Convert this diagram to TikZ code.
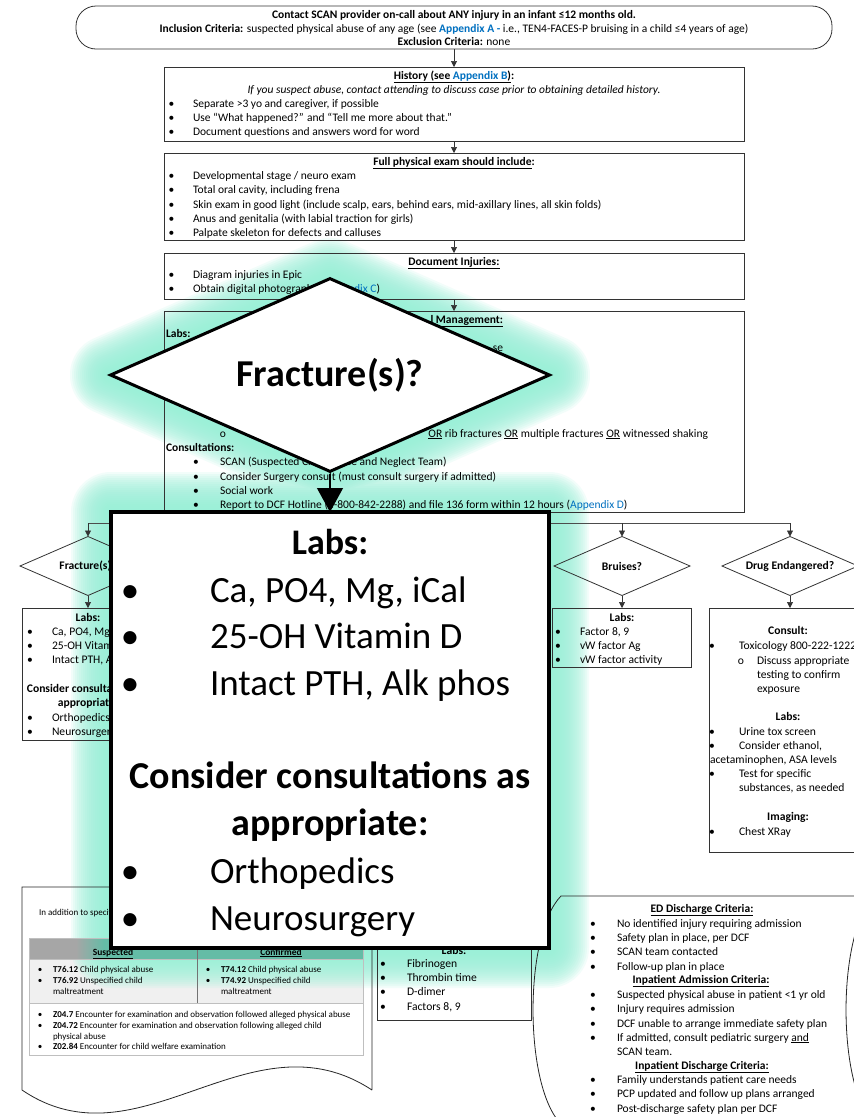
\documentclass[tikz,border=0pt]{standalone}
\usepackage{fontspec}
\setmainfont{Carlito}
\usetikzlibrary{arrows.meta,shapes.geometric}
\definecolor{link}{RGB}{0,112,192}
\definecolor{glowc}{RGB}{150,240,216}
\definecolor{hdrgrey}{RGB}{166,166,166}
\definecolor{hdrteal}{RGB}{100,188,166}
\definecolor{rowgrey}{RGB}{240,240,240}
\definecolor{rulegrey}{RGB}{191,191,191}
\newcommand\fs[1]{\fontsize{#1}{#1}\selectfont}
% bullet line: name, bullet x, text x, baseline y, text
\newcommand\bitem[5]{\node[tc] (#1b) at (#2,#4) {\textbullet}; \node[tx] (#1) at (#3,#4) {#5};}

\begin{document}
\begin{tikzpicture}[x=1pt,y=-1pt,
  tx/.style={inner sep=0pt,outer sep=0pt,anchor=base west},
  tc/.style={inner sep=0pt,outer sep=0pt,anchor=base},
  te/.style={inner sep=0pt,outer sep=0pt,anchor=base east},
  box/.style={draw=black!80,line width=0.8pt,inner sep=0pt,outer sep=0pt},
  dia/.style={draw=black!80,line width=0.8pt,diamond,aspect=2.3,inner sep=0pt,outer sep=0pt,
              minimum width=136,minimum height=59,font=\fs{11.6}\bfseries},
  arr/.style={draw=black!80,line width=0.7pt,-{Triangle[width=6pt,length=6pt]}},
  ln/.style={draw=black!70,line width=0.7pt},
  bigarr/.style={draw=black,line width=1.2pt,-{Triangle[width=26pt,length=24pt]}},
  bold/.style={font=\fs{#1}\bfseries},
]
\useasboundingbox (0,0) rectangle (854,1117);
\fill[white] (0,0) rectangle (854,1117);
\clip (0,0) rectangle (854,1117);

% table shading of the coding document (lies under the highlight)
\fill[rowgrey] (29,959) rectangle (363,1003);

% ---------------- soft highlight around the enlarged call-out ----------------
\fill[glowc] (110,375) -- (330,278) -- (550,375) -- (330,472) -- cycle;
\fill[glowc] (111,512) rectangle (549,948);
\foreach \w in {80,76,...,4} {
  \draw[glowc,line width=\w pt,line join=round,opacity=0.12]
    (110,375) -- (330,278) -- (550,375) -- (330,472) -- cycle
    (111,512) rectangle (549,948);
}
% header row of the coding table, tinted where the highlight reaches it
\fill[hdrgrey] (29,938) rectangle (76,959);
\shade[left color=hdrgrey,right color=hdrteal] (76,938) rectangle (104,959);
\fill[hdrteal] (104,938) rectangle (363,959);

% ---------------- main column boxes ----------------
\node[box,rounded corners=20pt,minimum width=756,minimum height=43,anchor=north] (top) at (454,6) {};
\node[box,minimum width=580,minimum height=74,anchor=north] (hist) at (454,67) {};
\node[box,minimum width=580,minimum height=87,anchor=north] (pe) at (454,153) {};
\node[box,minimum width=580,minimum height=46,anchor=north] (doc) at (454,253) {};
\node[box,minimum width=580,minimum height=201,anchor=north] (mgmt) at (454,311) {};

\draw[arr] (top.south) -- (hist.north);
\draw[arr] (hist.south) -- (pe.north);
\draw[arr] (pe.south) -- (doc.north);
\draw[arr] (doc.south) -- (mgmt.north);

\begin{scope}[every node/.append style={font=\fs{11.5}}]
\node[tc,bold=11.5] (t1) at (454,18.5) {Contact SCAN provider on-call about ANY injury in an infant ≤12 months old.};
\node[tc] (t2) at (454,32) {\textbf{Inclusion Criteria:} suspected physical abuse of any age (see \textcolor{link}{\textbf{Appendix A -}} i.e., TEN4-FACES-P bruising in a child ≤4 years of age)};
\node[tc] (t3) at (454,45) {\textbf{Exclusion Criteria:} none};

\node[tc,bold=11.5] (hT) at (454,79) {\underline{History (see \textcolor{link}{Appendix B})}:};
\node[tc,font=\fs{11.5}\itshape] (hI) at (454,93) {If you suspect abuse, contact attending to discuss case prior to obtaining detailed history.};
\bitem{h1}{171.5}{193}{107}{Separate >3 yo and caregiver, if possible}
\bitem{h2}{171.5}{193}{121}{Use “What happened?” and “Tell me more about that.”}
\bitem{h3}{171.5}{193}{135}{Document questions and answers word for word}

\node[tc,bold=11.5] (pT) at (454,165) {\underline{Full physical exam should include}:};
\bitem{p1}{171.5}{193}{179}{Developmental stage / neuro exam}
\bitem{p2}{171.5}{193}{193}{Total oral cavity, including frena}
\bitem{p3}{171.5}{193}{208}{Skin exam in good light (include scalp, ears, behind ears, mid-axillary lines, all skin folds)}
\bitem{p4}{171.5}{193}{222}{Anus and genitalia (with labial traction for girls)}
\bitem{p5}{171.5}{193}{236}{Palpate skeleton for defects and calluses}

\node[tc,bold=11.5] (dT) at (454,265) {\underline{Document Injuries:}};
\bitem{d1}{171.5}{193}{278.5}{Diagram injuries in Epic}
\bitem{d2}{171.5}{193}{292.5}{Obtain digital photographs (\textcolor{link}{Appendix C})}

\node[te,bold=11.5] (mT) at (503,323) {\underline{l Management:}};
\node[tx,bold=11.5] (mL) at (166,337) {Labs:};
\node[te] (mS) at (503,351) {se};
\node[tc] (mOb) at (223,437) {o};
\node[te] (mO) at (708,437) {\underline{OR} rib fractures \underline{OR} multiple fractures \underline{OR} witnessed shaking};
\node[tx,bold=11.5] (mC) at (166,451) {Consultations:};
\bitem{m1}{196}{220}{465}{SCAN (Suspected Child Abuse and Neglect Team)}
\bitem{m2}{196}{220}{480}{Consider Surgery consult (must consult surgery if admitted)}
\bitem{m3}{196}{220}{494}{Social work}
\bitem{m4}{196}{220}{508}{Report to DCF Hotline (1-800-842-2288) and file 136 form within 12 hours (\textcolor{link}{Appendix D})}
\end{scope}

% ---------------- branches ----------------
\coordinate (jM) at (454,523);
\coordinate (jL) at (88,523);
\coordinate (jB) at (622,523);
\coordinate (jD) at (790,523);
\draw[ln] (mgmt.south) -- (jM);
\draw[ln] (jL) -- (jD);

\node[dia] (dL) at (88,566) {Fracture(s)?};
\node[dia] (dB) at (622,566) {Bruises?};
\node[dia] (dD) at (790,566) {Drug Endangered?};
\draw[arr] (jL) -- (dL.north);
\draw[arr] (jB) -- (dB.north);
\draw[arr] (jD) -- (dD.north);

\node[box,minimum width=131,minimum height=132,anchor=north west] (bL) at (22.7,608) {};
\node[box,minimum width=139,minimum height=59,anchor=north west] (bB) at (552.7,608) {};
\node[box,minimum width=161,minimum height=244,anchor=north west] (bD) at (709.3,608) {};
\draw[arr] (dL.south) -- (dL.south |- bL.north);
\draw[arr] (dB.south) -- (dB.south |- bB.north);
\draw[arr] (dD.south) -- (dD.south |- bD.north);

\node[box,minimum width=154,minimum height=84,anchor=north west] (bM) at (377,936) {};

\begin{scope}[every node/.append style={font=\fs{11.6}}]
\node[tc,bold=11.6] (lL) at (88,621) {Labs:};
\bitem{l1}{30}{52}{635.5}{Ca, PO4, Mg, iCal}
\bitem{l2}{30}{52}{649.5}{25-OH Vitamin D}
\bitem{l3}{30}{52}{663.5}{Intact PTH, Alk phos}
\node[tc,bold=11.6] (lC1) at (88,692) {Consider consultations as};
\node[tc,bold=11.6] (lC2) at (88,706.5) {appropriate:};
\bitem{l4}{30}{52}{721}{Orthopedics}
\bitem{l5}{30}{52}{735}{Neurosurgery}

\node[tc,bold=11.6] (bLt) at (622,621) {Labs:};
\bitem{b1}{558}{580}{635}{Factor 8, 9}
\bitem{b2}{558}{580}{649}{vW factor Ag}
\bitem{b3}{558}{580}{663}{vW factor activity}

\node[tc,bold=11.6] (gC) at (788,634.5) {Consult:};
\bitem{g1}{712}{739}{649.5}{Toxicology 800-222-1222}
\node[tc] (g2b) at (741,664) {o};
\node[tx] (g2) at (757,664) {Discuss appropriate};
\node[tx] (g3) at (757,678.5) {testing to confirm};
\node[tx] (g4) at (757,692) {exposure};
\node[tc,bold=11.6] (gL) at (788,720.5) {Labs:};
\bitem{g5}{712}{739}{735}{Urine tox screen}
\bitem{g6}{712}{739}{749}{Consider ethanol,}
\node[tx] (g7) at (710,763) {acetaminophen, ASA levels};
\bitem{g8}{712}{739}{777}{Test for specific}
\node[tx] (g9) at (739,791) {substances, as needed};
\node[tc,bold=11.6] (gI) at (788,820) {Imaging:};
\bitem{g10}{712}{739}{835}{Chest XRay}

\node[tc,bold=11.6] (mdL) at (454,954) {Labs:};
\bitem{md1}{383}{407}{967.5}{Fibrinogen}
\bitem{md2}{383}{407}{981.5}{Thrombin time}
\bitem{md3}{383}{407}{995.5}{D-dimer}
\bitem{md4}{383}{407}{1010.5}{Factors 8, 9}
\end{scope}

% ---------------- coding document (wavy bottom) ----------------
\draw[line width=0.8pt,draw=black!85] (372,1090) -- (372,887) -- (22,887) -- (22,1090)
   .. controls (140,1170) and (250,1010) .. (372,1090);
\draw[rulegrey,line width=0.6pt] (29,938) rectangle (363,1055);
\draw[rulegrey,line width=0.6pt] (29,959) -- (363,959) (29,1003) -- (363,1003);
\draw[black!55,line width=0.9pt] (197,938) -- (197,1003);
\begin{scope}[every node/.append style={font=\fs{9}}]
\node[tx] (aT) at (39,915) {In addition to specific};
\node[tc,bold=9.5] (sH) at (113,955) {\underline{Suspected}};
\node[tc,bold=9.5] (cH) at (281,955) {\underline{Confirmed}};
\bitem{s1}{40}{53}{972}{\textbf{T76.12} Child physical abuse}
\bitem{s2}{40}{53}{983}{\textbf{T76.92} Unspecified child}
\node[tx] (s3) at (53,994) {maltreatment};
\bitem{c1}{208}{221}{972}{\textbf{T74.12} Child physical abuse}
\bitem{c2}{208}{221}{983}{\textbf{T74.92} Unspecified child}
\node[tx] (c3) at (221,994) {maltreatment};
\bitem{z1}{40}{53}{1017}{\textbf{Z04.7} Encounter for examination and observation followed alleged physical abuse}
\bitem{z2}{40}{53}{1028}{\textbf{Z04.72} Encounter for examination and observation following alleged child}
\node[tx] (z3) at (53,1039) {physical abuse};
\bitem{z4}{40}{53}{1049}{\textbf{Z02.84} Encounter for child welfare examination}
\end{scope}

% ---------------- disposition criteria (stored-data shape) ----------------
\draw[line width=0.8pt,draw=black!85] (561,896) -- (874,896)
   .. controls (836.7,934) and (836.7,1086) .. (874,1124) -- (561,1124)
   .. controls (523.7,1086) and (523.7,934) .. (561,896) -- cycle;
\begin{scope}[every node/.append style={font=\fs{11.5}}]
\node[tc,bold=11.5] (eT1) at (702,912) {\underline{ED Discharge Criteria:}};
\bitem{e1}{593}{617}{927}{No identified injury requiring admission}
\bitem{e2}{593}{617}{941}{Safety plan in place, per DCF}
\bitem{e3}{593}{617}{955}{SCAN team contacted}
\bitem{e4}{593}{617}{970}{Follow-up plan in place}
\node[tc,bold=11.5] (eT2) at (701,983) {\underline{Inpatient Admission Criteria:}};
\bitem{e5}{593}{617}{998}{Suspected physical abuse in patient <1 yr old}
\bitem{e6}{593}{617}{1012}{Injury requires admission}
\bitem{e7}{593}{617}{1027}{DCF unable to arrange immediate safety plan}
\bitem{e8}{593}{617}{1041}{If admitted, consult pediatric surgery \underline{and}}
\node[tx] (e9) at (617,1055) {SCAN team.};
\node[tc,bold=11.5] (eT3) at (702,1069) {\underline{Inpatient Discharge Criteria:}};
\bitem{e10}{593}{617}{1083}{Family understands patient care needs}
\bitem{e11}{593}{617}{1097}{PCP updated and follow up plans arranged}
\bitem{e12}{593}{617}{1112}{Post-discharge safety plan per DCF}
\end{scope}

% ---------------- enlarged call-out ----------------
\node[draw=black,line width=3pt,fill=white,diamond,aspect=2.27,inner sep=0pt,
      minimum width=440,minimum height=194,font=\fs{38}\bfseries] (bigq) at (330,375) {Fracture(s)?};
\node[draw=black,line width=4pt,fill=white,inner sep=0pt,outer sep=0pt,
      minimum width=438,minimum height=436,anchor=north west] (biglabs) at (111,512) {};
\draw[bigarr] (bigq.south) -- (biglabs.north);

\node[tc,bold=36] (oL) at (330,554) {Labs:};
\begin{scope}[every node/.append style={font=\fs{37}}]
\bitem{o1}{130}{210}{602}{Ca, PO4, Mg, iCal}
\bitem{o2}{130}{210}{648}{25-OH Vitamin D}
\bitem{o3}{130}{210}{695}{Intact PTH, Alk phos}
\node[tc,bold=38] (oC1) at (330,788) {Consider consultations as};
\node[tc,bold=38] (oC2) at (330,835) {appropriate:};
\bitem{o4}{130}{210}{883}{Orthopedics}
\bitem{o5}{130}{210}{930}{Neurosurgery}
\end{scope}
\end{tikzpicture}
\end{document}
